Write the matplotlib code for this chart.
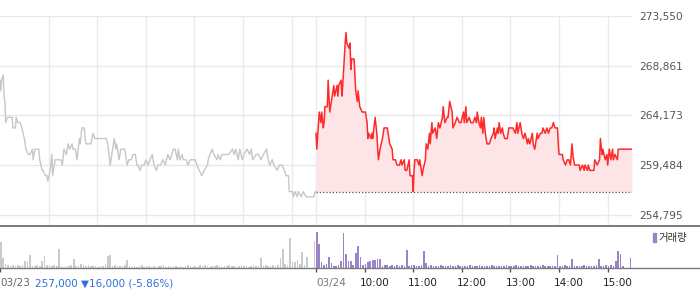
import matplotlib
matplotlib.use("Agg")
import matplotlib.pyplot as plt
from matplotlib.lines import Line2D
from matplotlib.patches import Rectangle
from matplotlib.transforms import blended_transform_factory, ScaledTranslation
import numpy as np

# ---------------- data ----------------
# minutes since 09:00 (03/23 session)
day1_min = [0,1,2,4,5,6,7,9,12,15,
            16,19,20,22,25,27,30,32,35,37,
            40,41,43,48,49,52,53,56,58,59,
            62,64,65,68,75,77,79,82,84,86,
            89,90,93,95,98,99,101,104,105,106,
            112,115,117,120,122,125,128,131,133,136,
            138,141,143,144,147,149,152,154,157,159,
            162,164,167,169,170,173,175,178,180,183,
            185,188,190,193,195,198,201,204,207,210,
            214,216,219,220,222,225,226,230,232,235,
            238,241,243,246,249,252,256,257,259,262,
            264,268,269,272,274,282,287,289,291,294,
            296,299,301,305,308,310,312,316,319,322,
            325,329,331,333,336,338,342,345,348,351,
            353,356,357,361,362,364,367,368,372,374,
            378,387,389,390]
day1_price = [267500,266500,267500,268000,266000,265500,263500,264000,264000,264000,
              263000,263000,264000,263500,263500,263000,262000,261000,260500,260500,
              261000,260000,261000,261000,260000,259000,259000,258500,258500,258000,
              259000,260500,258500,260000,260000,259500,261000,260500,261500,261000,
              261500,261000,261000,260000,262000,261500,263000,263000,262000,261500,
              261500,262500,262000,262000,262000,262000,262000,262000,261500,259500,
              260500,262000,261000,261500,260000,261000,261000,261000,259500,260000,
              260000,260500,260500,259500,259500,259000,259500,259500,260000,259500,
              260000,260500,259500,259000,259500,259500,260000,259500,260500,260000,
              261000,261000,260000,261000,260000,260500,260000,260000,259500,260000,
              260000,260000,259500,259000,258500,259000,259500,260000,260500,261000,
              260500,260000,260500,260000,260500,260500,261000,260500,261000,260000,
              261000,260000,260500,261000,260500,261000,260000,260500,260500,260000,
              260500,261000,260000,259500,260000,259500,259000,259500,259500,259000,
              258500,258500,257000,257000,256500,257000,256500,257000,256500,257000,
              256500,256500,257000,257000]

# minutes since 09:00 (03/24 session)
day2_min = [0,1,4,6,7,9,10,11,14,15,
            17,19,21,22,23,26,27,28,31,32,
            33,36,37,38,41,42,43,44,47,49,
            51,52,54,57,58,61,63,64,65,68,
            69,70,73,75,77,79,82,84,88,90,
            91,94,95,98,100,103,105,106,109,110,
            112,115,116,119,120,121,122,125,127,128,
            131,132,135,136,138,140,141,143,144,147,
            149,151,153,156,157,159,162,163,165,168,
            169,172,174,177,179,182,183,185,186,189,
            191,194,196,198,199,201,203,204,206,207,
            209,211,214,216,219,220,221,224,225,226,
            228,230,231,233,236,238,241,243,246,248,
            249,252,254,256,258,261,262,264,267,268,
            270,273,274,277,279,280,283,285,287,289,
            291,293,295,298,299,300,303,304,305,308,
            310,312,314,316,317,319,322,325,326,329,
            331,332,335,336,338,343,344,347,350,351,
            353,354,357,359,360,362,364,366,367,369,
            372,373,375,388,390]
day2_price = [262500,261000,264500,263500,264500,263000,263500,265000,265000,267500,
              264500,265500,266500,267000,266000,267000,266000,267000,267500,266000,
              267000,271000,272000,271000,270500,271000,268500,269500,269500,266500,
              265500,266500,265000,264500,264500,264500,263500,262000,262500,262000,
              262500,262000,264000,262500,260000,261000,262000,263000,263000,262000,
              261500,261000,260000,260000,259500,259500,260000,259500,260000,259000,
              259000,260000,258500,258500,257000,259000,260000,260000,259500,260000,
              258500,259000,260000,261500,261000,262500,261500,263500,262500,263000,
              262000,263500,263000,264000,265000,263500,264000,264000,265500,264500,
              263000,263500,264000,263500,263500,264500,263500,265000,263500,264000,
              263500,263500,264000,263500,264500,263500,263000,264000,262500,264000,
              262500,261500,261500,262000,262500,263000,262000,263000,262500,263500,
              262500,263000,262500,262000,262000,263000,263000,263000,262500,263500,
              262500,263500,262500,262000,262500,261500,262000,261500,262500,261500,
              261000,262500,262000,262500,262500,263000,262500,263000,262500,263000,
              263000,263500,263000,263000,261500,260500,260500,260500,260000,259500,
              260000,260000,259500,261500,260500,259500,259500,259500,259000,259500,
              259000,259500,259000,259500,259000,259000,260000,259500,260000,262000,
              260500,261000,260000,260500,259500,261000,260000,261000,260000,260500,
              260000,261000,261000,261000,261000]

prev_close = 257000
y_ticks = [254795, 259484, 264173, 268861, 273550]
y_tick_labels = ["254,795", "259,484", "264,173", "268,861", "273,550"]

# volume per 3-minute bin (relative units)
vol_bin = 3
vol_day1 = [26,10,4,3,2,3,2,3,2,3,
            7,6,13,2,2,3,2,7,12,3,
            3,2,3,2,19,2,1,2,2,3,
            9,2,2,4,3,2,3,2,2,2,
            1,2,2,4,12,13,2,3,2,2,
            2,3,8,2,
            1,2,1,2,3,1,2,2,1,2,
            1,2,2,3,1,2,1,2,2,1,
            2,1,2,3,2,1,2,1,
            3,
            2,3,2,1,2,2,3,2,1,2,
            2,3,2,2,1,2,3,2,2,1,
            2,3,2,2,
            10,2,3,2,2,3,2,3,10,19,
            4,3,30,6,6,8,4,16,3,11,
            0,0,27]
vol_day2 = [36,24,6,3,4,11,5,2,2,3,
            7,35,14,7,7,3,15,22,11,3,
            4,6,7,8,8,9,9,2,3,3,
            2,3,2,3,2,3,2,18,2,3,
            3,2,2,3,17,5,
            2,3,2,2,2,3,2,2,2,3,
            2,2,3,2,2,2,2,3,2,2,
            2,3,2,2,2,2,3,2,2,2,
            2,2,3,2,2,2,3,2,2,2,
            2,2,3,2,2,2,2,3,2,2,
            2,2,2,
            13,2,2,3,2,2,9,
            2,2,2,2,3,2,2,2,2,
            3,9,2,2,3,2,3,2,7,17,
            14,2,0,0,10]

day1_label = "03/23"
day1_summary = "257,000 \u25bc16,000 (-5.86%)"
time_tick_min = [390, 450, 510, 570, 630, 690, 750]
time_tick_labels = ["03/24", "10:00", "11:00", "12:00", "13:00", "14:00", "15:00"]
session_len = 390

# ---------------- figure ----------------
W, H = 700, 289
fig = plt.figure(figsize=(W / 100, H / 100), dpi=100)
fig.patch.set_facecolor("white")

def fy(py):
    return 1 - py / H

x_right = 632
ax = fig.add_axes([0, fy(225), x_right / W, fy(16) - fy(225)])
axv = fig.add_axes([0, fy(268), x_right / W, fy(226) - fy(268)])

total = 2 * session_len
ymin = y_ticks[0] - (y_ticks[1] - y_ticks[0]) * 10 / 49.75
ax.set_xlim(0, total)
ax.set_ylim(ymin, y_ticks[-1])
for s in ax.spines.values():
    s.set_visible(False)

grid_x = [m for m in range(60, session_len, 60)] + [session_len + m for m in range(0, session_len, 60)]
for gx in grid_x:
    ax.axvline(gx, color="#ebebeb", lw=1, zorder=0)
for gy in y_ticks:
    ax.axhline(gy, color="#e8e8e8", lw=1, zorder=0)

ax.set_xticks([])
ax.yaxis.tick_right()
ax.set_yticks(y_ticks)
ax.set_yticklabels(y_tick_labels)
ax.tick_params(axis="y", length=0, pad=5, labelsize=7.7, labelcolor="#555555")

x1 = np.array(day1_min, dtype=float)
x2 = np.array(day2_min, dtype=float) + session_len
p1 = np.array(day1_price, dtype=float)
p2 = np.array(day2_price, dtype=float)

ax.plot(x1, p1, color="#c4c7cc", lw=1.0, zorder=3)
ax.fill_between(x2, p2, prev_close, color="#fde5e7", lw=0, zorder=1)
ax.plot(x2, p2, color="#ff2a2a", lw=1.1, zorder=4)
ax.hlines(prev_close, session_len, total, colors="#555555", linestyles=(0, (1, 1.6)), lw=0.9, zorder=2)

# volume
axv.set_xlim(0, total)
axv.set_ylim(0, 42)
for s in axv.spines.values():
    s.set_visible(False)
axv.set_yticks([])
vx1 = np.arange(len(vol_day1)) * vol_bin + 1
vx2 = np.arange(len(vol_day2)) * vol_bin + 1 + session_len
axv.bar(vx1, vol_day1, width=2.0, color="#cacaca", lw=0)
axv.bar(vx2, vol_day2, width=2.0, color="#9a84c8", lw=0)
axv.set_xticks([0] + time_tick_min)
axv.set_xticklabels([])
axv.tick_params(axis="x", length=3.2, width=1, color="#555555", direction="out")

# figure-wide lines
fig.add_artist(Line2D([0, 1], [fy(225.5), fy(225.5)], color="#6f6f6f", lw=1.3))
fig.add_artist(Line2D([0, 1], [fy(268), fy(268)], color="#7a7a7a", lw=1.0))

# bottom labels
fig.text(0 / W, fy(283), day1_label, ha="left", va="center", fontsize=7.5, color="#666666")
fig.text(35 / W, fy(283), day1_summary, ha="left", va="center", fontsize=7.5, color="#2f6fdc")
trans = blended_transform_factory(axv.transData, fig.transFigure)
for m, lab in zip(time_tick_min, time_tick_labels):
    if lab == time_tick_labels[0]:
        off = ScaledTranslation(0, 0, fig.dpi_scale_trans)
        col = "#777777"
    else:
        off = ScaledTranslation(-5 / 100, 0, fig.dpi_scale_trans)
        col = "#222222"
    fig.text(m, fy(283), lab, transform=trans + off, ha="left", va="center",
             fontsize=7.5, color=col)

# legend
fig.add_artist(Rectangle((653 / W, fy(242)), 3 / W, 9 / H, color="#9a84c8",
                         transform=fig.transFigure))
fig.text(658 / W, fy(237.5), "거래량", ha="left", va="center", fontsize=7.5,
         color="#333333", family=["Noto Sans CJK KR", "DejaVu Sans"])

fig.savefig("out.png", dpi=100)
